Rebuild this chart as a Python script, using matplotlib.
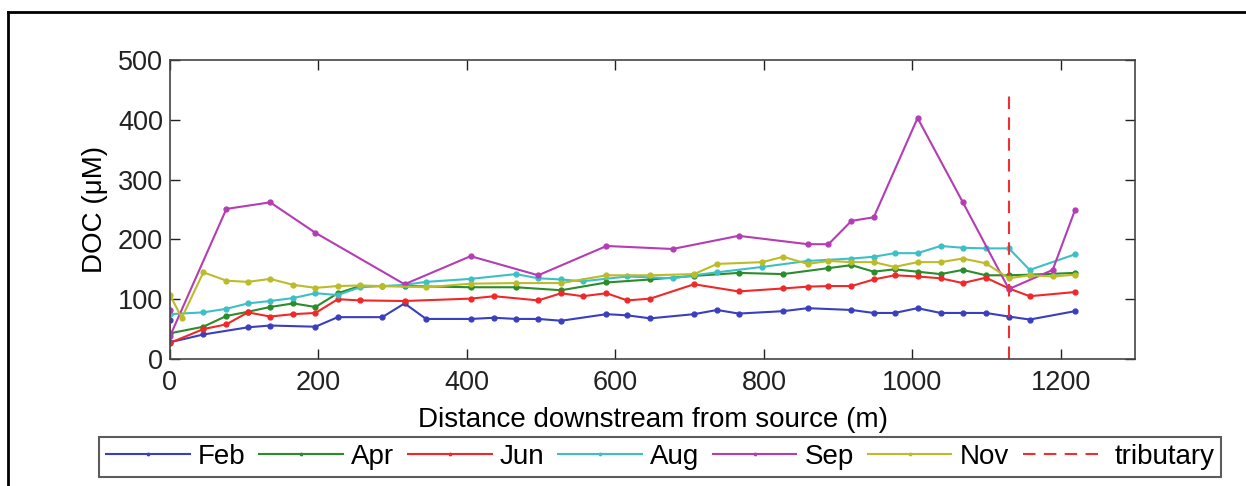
import matplotlib
matplotlib.use('Agg')
import matplotlib.pyplot as plt
from matplotlib.lines import Line2D

plt.rcParams['font.family'] = ['Liberation Sans', 'DejaVu Sans']

# data (distance m, DOC uM)
feb_x = [0, 0, 45, 105, 135, 196, 226, 286, 316, 345, 405, 437, 466, 496, 527, 588, 616, 647,
         706, 737, 766, 826, 859, 918, 948, 976, 1007, 1038, 1068, 1099, 1130, 1158, 1219]
feb_y = [65, 28, 41, 53, 56, 54, 70, 70, 93, 67, 67, 69, 67, 67, 64, 75, 73, 68,
         75, 82, 76, 80, 85, 82, 77, 77, 85, 77, 77, 77, 71, 66, 80]

apr_x = [0, 45, 76, 105, 135, 166, 196, 226, 256, 286, 316, 405, 466, 527, 588, 647, 706,
         766, 826, 887, 918, 948, 976, 1007, 1038, 1068, 1099, 1130, 1158, 1219]
apr_y = [43, 54, 72, 79, 87, 93, 87, 110, 122, 122, 122, 120, 120, 115, 128, 133, 139,
         144, 142, 152, 157, 146, 150, 146, 142, 149, 140, 140, 141, 144]

jun_x = [0, 45, 76, 105, 135, 166, 196, 226, 256, 316, 405, 437, 496, 527, 556, 588, 616, 647,
         706, 766, 826, 859, 887, 918, 948, 976, 1007, 1038, 1068, 1099, 1130, 1158, 1219]
jun_y = [27, 50, 58, 78, 71, 75, 77, 100, 98, 97, 101, 105, 98, 110, 105, 110, 98, 101,
         125, 113, 118, 121, 122, 122, 133, 140, 138, 135, 127, 136, 118, 105, 112]

aug_x = [0, 45, 76, 105, 135, 166, 196, 226, 256, 316, 345, 405, 466, 496, 527, 556, 616, 677,
         706, 737, 798, 859, 918, 948, 976, 1007, 1038, 1068, 1099, 1130, 1158, 1219]
aug_y = [75, 78, 84, 93, 97, 102, 110, 107, 120, 124, 129, 134, 142, 135, 133, 130, 138, 135,
         140, 145, 154, 164, 168, 171, 177, 177, 189, 186, 185, 185, 149, 175]

sep_x = [0, 0, 76, 135, 196, 316, 405, 496, 588, 677, 766, 859, 887, 918, 948, 1007,
         1068, 1130, 1189, 1219]
sep_y = [82, 38, 251, 262, 211, 125, 172, 140, 189, 184, 206, 192, 192, 231, 237, 403,
         262, 117, 149, 249]

nov_x = [0, 16, 45, 76, 105, 135, 166, 196, 226, 256, 286, 345, 405, 466, 527, 588, 647, 706,
         737, 798, 826, 859, 887, 918, 948, 976, 1007, 1038, 1068, 1099, 1130, 1158, 1189, 1219]
nov_y = [107, 69, 145, 131, 129, 134, 124, 119, 122, 123, 122, 120, 126, 127, 127, 140, 140, 142,
         159, 162, 171, 159, 164, 162, 162, 154, 162, 162, 168, 160, 135, 140, 138, 141]

trib_x = 1130
trib_y = [0, 447]

series = [
    ('Feb', feb_x, feb_y, '#3a3fbf'),
    ('Apr', apr_x, apr_y, '#2a8c2a'),
    ('Jun', jun_x, jun_y, '#f02828'),
    ('Aug', aug_x, aug_y, '#3cc0c8'),
    ('Sep', sep_x, sep_y, '#b43cb4'),
    ('Nov', nov_x, nov_y, '#bcbc28'),
]

fig = plt.figure(figsize=(12.46, 4.86), dpi=100)
ax = fig.add_axes([0.1364, 0.2613, 0.7746, 0.6152])

for name, xs, ys, col in series:
    ax.plot(xs, ys, color=col, lw=1.5, marker='.', ms=7, label=name)
ax.plot([trib_x, trib_x], trib_y, color='#f03030', lw=1.5, ls=(0, (6, 4)), label='tributary')

ax.set_xlim(0, 1300)
ax.set_ylim(0, 500)
ax.set_xticks([0, 200, 400, 600, 800, 1000, 1200])
ax.set_yticks([0, 100, 200, 300, 400, 500])
ax.tick_params(direction='in', length=7, width=1, top=True, right=True, labelsize=19.5, colors='#222222')
ax.tick_params(axis='x', pad=8)
ax.tick_params(axis='y', pad=5)
for s in ax.spines.values():
    s.set_color('#444444')
    s.set_linewidth(1.2)
ax.set_xlabel('Distance downstream from source (m)', fontsize=20, labelpad=8)
ax.set_ylabel('DOC (\u03bcM)', fontsize=20, labelpad=7)

handles, labels = ax.get_legend_handles_labels()
leg = fig.legend(handles, labels, loc='center', bbox_to_anchor=(0.530, 0.0597), ncol=7,
                 fontsize=20, frameon=True, fancybox=False, edgecolor='#333333',
                 handlelength=3.0, handletextpad=0.3, columnspacing=0.5, borderpad=0.25,
                 borderaxespad=0, markerscale=0.5)
leg.get_frame().set_linewidth(1.5)

# outer frame
fig.add_artist(Line2D([0.0064, 0.0064], [0, 0.975], transform=fig.transFigure, color='black', lw=2))
fig.add_artist(Line2D([0.0064, 1.0], [0.975, 0.975], transform=fig.transFigure, color='black', lw=2))

fig.savefig('out.png', dpi=100)
